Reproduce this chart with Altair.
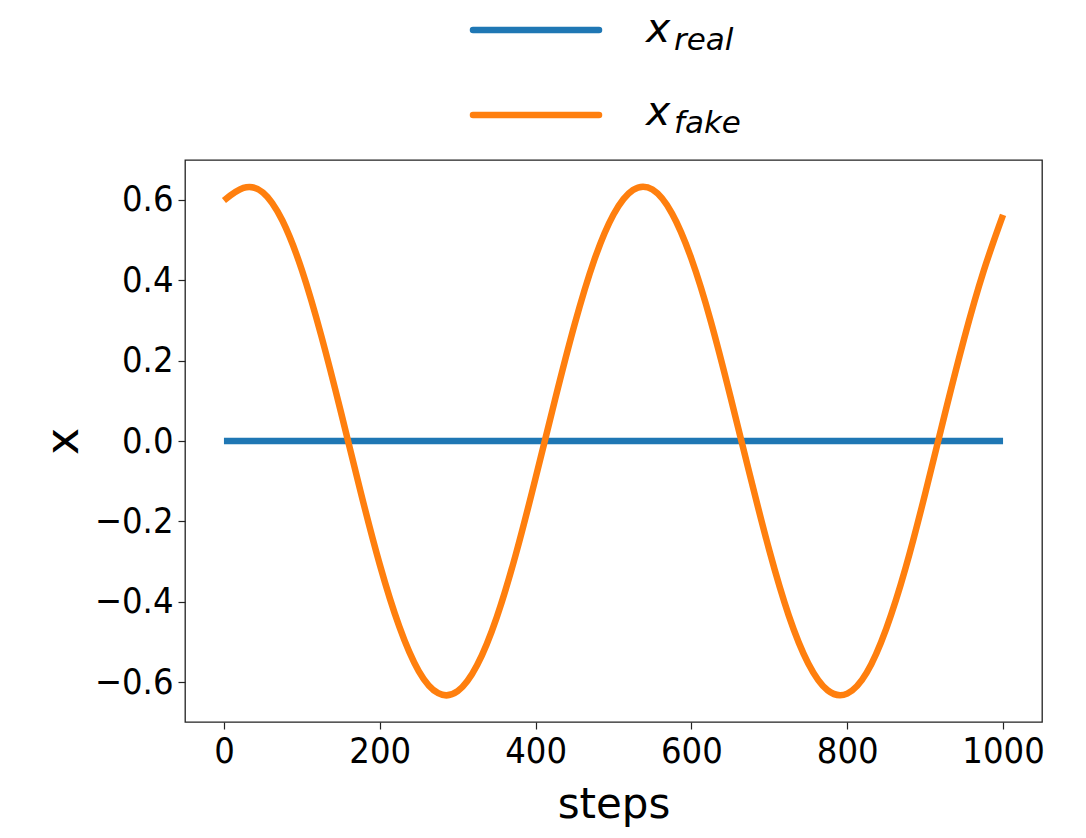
import altair as alt
import pandas as pd

# ---- data ----
steps = [0, 25, 50, 75, 100, 125, 150, 175, 200, 225, 250, 275, 300, 325, 350,
         375, 400, 425, 450, 475, 500, 525, 550, 575, 600, 625, 650, 675, 700,
         725, 750, 775, 800, 825, 850, 875, 900, 925, 950, 975, 1000]
x_fake = [0.598, 0.629, 0.618, 0.548, 0.425, 0.261, 0.073, -0.123, -0.307,
          -0.461, -0.572, -0.627, -0.622, -0.557, -0.439, -0.279, -0.092,
          0.103, 0.289, 0.448, 0.563, 0.624, 0.625, 0.566, 0.453, 0.297,
          0.111, -0.084, -0.272, -0.434, -0.553, -0.620, -0.628, -0.576,
          -0.467, -0.315, -0.131, 0.065, 0.254, 0.422, 0.562]
x_real = [0.0] * len(steps)

series_names = ["real", "fake"]
series_colors = ["#1f77b4", "#ff7f0e"]
x_ticks = [0, 200, 400, 600, 800, 1000]
y_ticks = [-0.6, -0.4, -0.2, 0.0, 0.2, 0.4, 0.6]

df = pd.concat([
    pd.DataFrame({"steps": steps, "x": x_real, "series": "real"}),
    pd.DataFrame({"steps": steps, "x": x_fake, "series": "fake"}),
])

TICK_FONT = "Liberation Sans Narrow, DejaVu Sans Condensed, Roboto, sans-serif"
TITLE_FONT = "DejaVu Sans"

color_scale = alt.Scale(domain=series_names, range=series_colors)

lines = alt.Chart(df).mark_line(strokeWidth=6.5, interpolate="natural", clip=True).encode(
    x=alt.X("steps:Q",
            scale=alt.Scale(domain=[-50, 1050], nice=False, zero=False),
            axis=alt.Axis(values=x_ticks, format="d", title="steps",
                          titleFontSize=42, titleFont=TITLE_FONT, titleFontWeight="normal",
                          titleY=95, titleBaseline="alphabetic",
                          labelFontSize=36, labelFont=TICK_FONT,
                          labelBaseline="alphabetic", labelPadding=33,
                          labelFlush=False)),
    y=alt.Y("x:Q",
            scale=alt.Scale(domain=[-0.6985, 0.6985], nice=False, zero=False),
            axis=alt.Axis(values=y_ticks, format=".1f", title="x",
                          titleFontSize=46, titleFont=TITLE_FONT, titleFontWeight="normal",
                          titleX=-122, titleY=281, titleBaseline="middle", titleAngle=270,
                          labelFontSize=36, labelFont=TICK_FONT, labelPadding=5)),
    color=alt.Color("series:N", scale=color_scale, legend=None),
    order=alt.Order("steps:Q"),
)

# ---- custom legend (math-style labels) ----
leg_real = pd.DataFrame({"series": ["real"], "main": ["x"], "sub": ["real"]})
leg_fake = pd.DataFrame({"series": ["fake"], "main": ["x"], "sub": ["fake"]})


def legend_layers(d, y_line, y_main, y_sub):
    rule = alt.Chart(d).mark_rule(strokeWidth=6.5, strokeCap="round").encode(
        x=alt.value(288), x2=alt.value(414), y=alt.value(y_line),
        color=alt.Color("series:N", scale=color_scale, legend=None))
    main = alt.Chart(d).mark_text(font=TITLE_FONT, fontStyle="italic", fontSize=41,
                                  align="left", baseline="alphabetic", color="black").encode(
        text="main:N", x=alt.value(461), y=alt.value(y_main))
    sub = alt.Chart(d).mark_text(font=TITLE_FONT, fontStyle="italic", fontSize=31,
                                 align="left", baseline="alphabetic", color="black").encode(
        text="sub:N", x=alt.value(489), y=alt.value(y_sub))
    return rule + main + sub


legend = legend_layers(leg_real, -130, -118, -110) + legend_layers(leg_fake, -45, -35, -27)

chart = alt.layer(lines, legend).properties(
    width=857, height=562,
    autosize=alt.AutoSizeParams(type="none"),
    padding={"left": 177, "top": 152, "right": 30, "bottom": 116},
).configure_view(
    stroke="#222222", strokeWidth=1.3
).configure_axis(
    grid=False, domain=False, ticks=True, tickSize=7, tickColor="#222222",
    tickWidth=1.2, labelColor="black", titleColor="black"
)

chart.save("out.html", embed_options={"renderer": "svg", "actions": False})
